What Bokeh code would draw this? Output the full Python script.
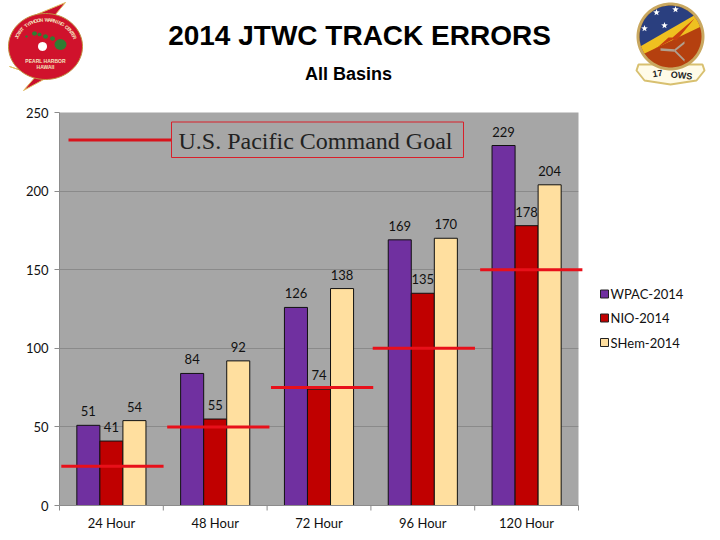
import numpy as np
from bokeh.core.properties import value
from bokeh.embed import file_html
from bokeh.resources import INLINE
from bokeh.models import (ColumnDataSource, Range1d, FixedTicker)
from bokeh.plotting import figure
from bokeh.transform import dodge

categories = ["24 Hour", "48 Hour", "72 Hour", "96 Hour", "120 Hour"]
wpac_2014 = [51, 84, 126, 169, 229]
nio_2014 = [41, 55, 74, 135, 178]
shem_2014 = [54, 92, 138, 170, 204]
goal_values = [25, 50, 75, 100, 150]
y_ticks = [0, 50, 100, 150, 200, 250]

W, H = 720, 540
FL, FR, FT, FB = 59, 578, 112, 505
centers = [i + 0.5 for i in range(len(categories))]

p = figure(width=W, height=H, output_backend="svg", toolbar_location=None,
           x_range=Range1d(0, len(categories)), y_range=Range1d(0, 250),
           min_border_left=FL, min_border_right=W - FR,
           min_border_top=FT, min_border_bottom=H - FB, title=None)
# decoration layer: a second pair of ranges that reads in page pixels
p.extra_x_ranges = {"px": Range1d(FL, FR)}
p.extra_y_ranges = {"px": Range1d(FB, FT)}
PXR = dict(x_range_name="px", y_range_name="px", level="overlay")

p.background_fill_color = "#a6a6a6"
p.border_fill_color = "white"
p.outline_line_color = None
p.xgrid.visible = False
p.ygrid.grid_line_color = "#8a8a8a"
p.ygrid.ticker = FixedTicker(ticks=y_ticks)
p.yaxis.ticker = FixedTicker(ticks=y_ticks)
p.xaxis.ticker = FixedTicker(ticks=centers)
p.xaxis.major_label_overrides = dict(zip(centers, categories))
for ax in (p.xaxis[0], p.yaxis[0]):
    ax.axis_line_color = "#8c8c8c"
    ax.major_tick_line_color = "#8c8c8c"
    ax.minor_tick_line_color = None
    ax.major_label_text_font = "Lato"
    ax.major_label_text_font_size = "13px"
    ax.major_label_text_color = "#111111"
    ax.major_tick_in = 0
p.yaxis.major_tick_out = 5
p.yaxis.major_label_standoff = 6
p.xaxis.major_tick_out = 0
p.xaxis.major_label_standoff = 9

source = ColumnDataSource(dict(x=centers, wpac=wpac_2014, nio=nio_2014, shem=shem_2014))
series = [("wpac", "#7030a0", -0.222, "WPAC-2014"),
          ("nio", "#c00000", 0.0, "NIO-2014"),
          ("shem", "#ffdf9f", 0.222, "SHem-2014")]
for key, color, off, name in series:
    p.vbar(x=dodge("x", off), top=key, width=0.222, bottom=0,
           source=source, fill_color=color, line_color="#111111", line_width=1)
    p.text(x=dodge("x", off), y=key, text=key, source=source,
           text_font=value("Lato"), text_font_size="13px", text_color="#111111",
           text_align="center", text_baseline="middle", y_offset=-14)

# per-line horizontal nudges of the hand-drawn goal lines
nudges = [0.01, 0.03, 0.03, 0.01, 0.045]
p.rect(x=[c + n for c, n in zip(centers, nudges)], y=goal_values, width=0.985, height=3,
       height_units="screen", fill_color="#e8101a", line_color=None, level="overlay")


def poly(xs, ys, fill, line=None, lw=1):
    p.patch(list(xs), list(ys), fill_color=fill, fill_alpha=1, line_color=line, line_width=lw, **PXR)


def text(t, x, y, size, font="Liberation Sans", style="normal", color="black",
         align="center", angle=0):
    p.text([x], [y], text=[t], text_font=value(font), text_font_size=size, text_font_style=style,
           text_color=color, text_align=align, text_baseline="middle", angle=angle, **PXR)


def ell(cx0, cy0, rx, ry, n=72):
    t = np.linspace(0, 2 * np.pi, n, endpoint=False)
    return cx0 + rx * np.cos(t), cy0 + ry * np.sin(t)


# legend
for (key, color, off, name), ly in zip(series, [293.5, 317.5, 342]):
    poly([600, 608, 608, 600], [ly - 4, ly - 4, ly + 4, ly + 4], color, "#222222", 1)
    text(name, 610, ly, "13px", font="Lato", color="#111111", align="left")

# x-axis boundary ticks
for k in range(6):
    xp = FL + k * (FR - FL) / 5
    poly([xp - 0.5, xp + 0.5, xp + 0.5, xp - 0.5], [FB, FB, FB + 5, FB + 5], "#8c8c8c")

# titles
text("2014 JTWC TRACK ERRORS", 359, 35, "28px", style="bold")
text("All Basins", 348, 73, "18px", style="bold")

# goal key
poly([68, 171, 171, 68], [138, 138, 141, 141], "#d8141c")
poly([171, 463, 463, 171], [121.5, 121.5, 157, 157], "#a6a6a6", "#d8202a", 1)
text("U.S. Pacific Command Goal", 178, 140, "24px", font="Liberation Serif", color="#222222", align="left")

# left emblem
ex, ey = ell(45, 46, 37, 33)
poly([36, 65, 55, 60], [14, 2, 14, 20], "#c8102e", "#e0c060")
poly([9, 45, 23, 36], [66, 78, 90, 75], "#c8102e", "#e0c060")
poly(ex, ey, "#d0122c", "#c09040")
ex, ey = ell(42, 46, 4.5, 4.5, 24)
poly(ex, ey, "white")
for (a, b, r) in [(60, 44, 6), (52, 38, 2.5), (45, 36, 2.5), (39, 34, 2), (34, 33, 2.5), (26, 36, 1.2)]:
    ex, ey = ell(a, b, r, r * 0.9, 16)
    poly(ex, ey, "#2e7d32")
phrase = "JOINT TYPHOON WARNING CENTER"
for i, ch in enumerate(phrase):
    th = np.radians(-160 + i * 140 / (len(phrase) - 1))
    text(ch, 45 + 31 * np.cos(th), 46 + 27 * np.sin(th), "5px", style="bold", color="#f3e3c0",
         angle=-(th + np.pi / 2))
text("PEARL HARBOR", 45, 60, "5px", style="bold", color="#f3e3c0")
text("HAWAII", 45, 66, "5px", style="bold", color="#f3e3c0")


# right emblem
def half(c, a, b):
    xs, ys = c
    line = a[1] + (b[1] - a[1]) * (xs - a[0]) / (b[0] - a[0])
    m = ys < line
    r = -int(np.argmin(m))
    return np.roll(xs, r)[np.roll(m, r)], np.roll(ys, r)[np.roll(m, r)]


poly([638, 702, 704, 696, 670, 644, 636], [64, 64, 70, 80, 84, 80, 70], "#fffbe8", "#d8c070", 2)
text("17", 657, 73, "9px", style="bold", color="#222222", angle=0.15)
text("OWS", 681, 75, "9px", style="bold", color="#222222", angle=-0.1)
ex, ey = ell(670, 36, 33, 33, 120)
poly(ex, ey, "#c9a860", "#c9a860", 2)
e = ell(670, 36, 31, 31, 120)
poly(*e, "#b5400f")
band = half(e, (640, 56), (702, 27))
poly(band[0], band[1], "#efc020")
xs, ys = half(e, (640, 47), (692, 17))
poly(xs, ys, "#2a3f7f")
poly([658, 668, 672, 694, 676, 672, 650], [46, 37, 37, 18, 40, 39, 51], "#c84010")
for (a, b) in [(656, 12), (675, 9), (644, 28), (664, 25)]:
    t = np.arange(10) * np.pi / 5 - np.pi / 2
    r = np.where(np.arange(10) % 2 == 0, 3.5, 1.4)
    poly(a + r * np.cos(t), b + r * np.sin(t), "white")
for seg in [([674, 684], [50, 42]), ([674, 660], [50, 49]), ([674, 684], [50, 60])]:
    poly([seg[0][0], seg[0][1], seg[0][1], seg[0][0]],
         [seg[1][0] - 1.2, seg[1][1] - 1.2, seg[1][1] + 1.2, seg[1][0] + 1.2], "#b0a090")

open("out.html", "w").write(file_html(p, INLINE))
